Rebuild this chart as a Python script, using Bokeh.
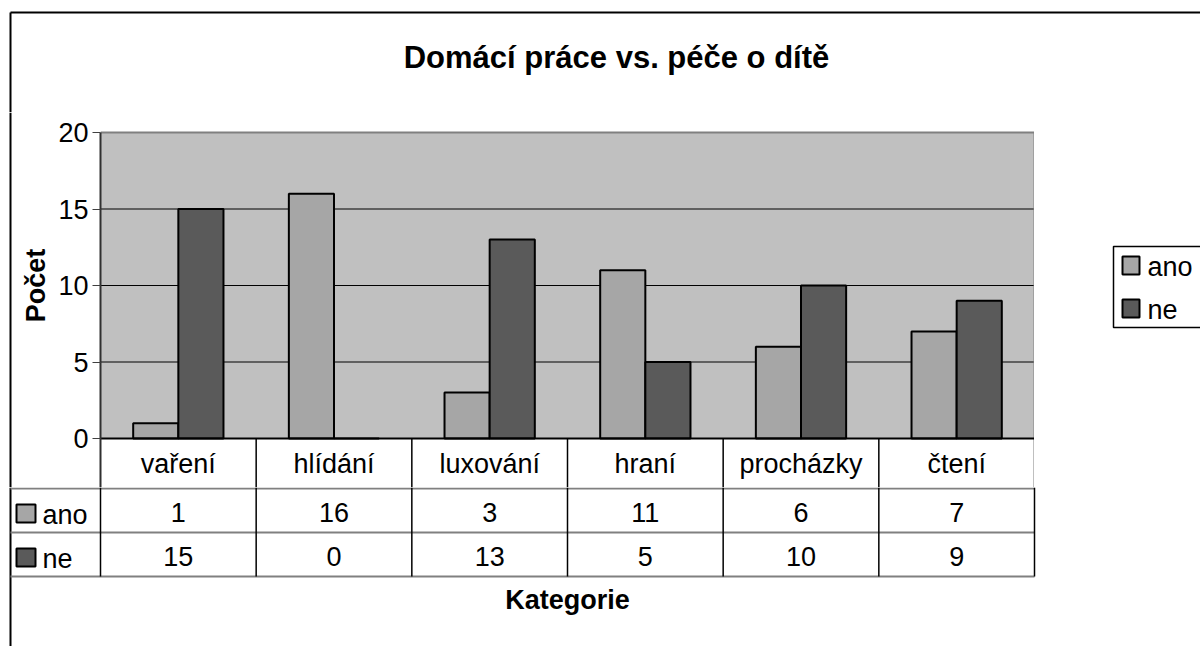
import numpy as np
from bokeh.plotting import figure
from bokeh.models import FactorRange, Range1d, ColumnDataSource
from bokeh.transform import dodge
from bokeh.layouts import column, row
from bokeh.core.properties import value
from bokeh.embed import file_html
from bokeh.resources import INLINE

# ---- data ----
categories = ["vaření", "hlídání", "luxování", "hraní", "procházky", "čtení"]
ano = [1, 16, 3, 11, 6, 7]
ne = [15, 0, 13, 5, 10, 9]
series = ["ano", "ne"]
series_colors = ["#A6A6A6", "#5A5A5A"]
yticks = [0, 5, 10, 15, 20]
title = "Domácí práce vs. péče o dítě"
x_title = "Kategorie"
y_title = "Počet"

FONT = value("Liberation Sans")
FS = value("27px")

# ---- layout constants (pixels) ----
W_TOTAL = 1200
H_TOP = 112
TOP_PAD = 20                     # frame space above the value area
PLOT_H = 306                     # height of the 0..20 value area
CAT_ROW = 49                     # category row height inside chart frame
H_MID = TOP_PAD + PLOT_H + CAT_ROW
H_BOT = 646 - H_TOP - H_MID
LEFT_STRIP = 50
AXIS_W = 50
FRAME_W = 934
RIGHT_W = W_TOTAL - LEFT_STRIP - AXIS_W - FRAME_W
CAT_W = FRAME_W / len(categories)
PX = PLOT_H / (yticks[-1] - yticks[0])
ORIGIN_X = LEFT_STRIP + AXIS_W


def deco(width, height, xr, yr):
    p = figure(width=width, height=height, x_range=xr, y_range=yr,
               toolbar_location=None, output_backend="svg", tools="",
               x_axis_location=None, y_axis_location=None,
               min_border=0, outline_line_color=None,
               background_fill_color="white", border_fill_color="white")
    p.grid.visible = False
    return p


# ---- top: title + outer border ----
top = deco(W_TOTAL, H_TOP, Range1d(0, W_TOTAL), Range1d(H_TOP, 0))
top.segment(x0=[10, 10], y0=[12, 12], x1=[W_TOTAL, 10], y1=[12, H_TOP],
            line_color="black", line_width=2)
top.text(x=[616], y=[57], text=[title], text_font=FONT,
         text_font_size=value("31px"), text_font_style="bold",
         text_align="center", text_baseline="middle", text_color="black")

# ---- left strip: border + y title ----
left = deco(LEFT_STRIP, H_MID, Range1d(0, LEFT_STRIP), Range1d(H_MID, 0))
left.segment(x0=[10], y0=[0], x1=[10], y1=[H_MID], line_color="black", line_width=2)
left.text(x=[35], y=[TOP_PAD + PLOT_H / 2], text=[y_title], angle=np.pi / 2,
          text_font=FONT, text_font_size=value("27px"), text_font_style="bold",
          text_align="center", text_baseline="middle", text_color="black")

# ---- chart (value area + category row) ----
y_start = yticks[0] - CAT_ROW / PX
y_end = yticks[-1] + TOP_PAD / PX
src = ColumnDataSource(dict(cat=categories, ano=ano, ne=ne))
p = figure(width=AXIS_W + FRAME_W, height=H_MID,
           x_range=FactorRange(*categories), y_range=Range1d(y_start, y_end),
           toolbar_location=None, output_backend="svg", tools="",
           x_axis_location=None,
           min_border_left=AXIS_W, min_border_right=0,
           min_border_top=0, min_border_bottom=0,
           background_fill_color="white", border_fill_color="white",
           outline_line_color=None)
p.grid.visible = False
n = len(categories)
# plot area background
p.quad(left=[0], right=[n], bottom=[yticks[0]], top=[yticks[-1]],
       fill_color="#C0C0C0", line_color=None)
# gridlines
inner = yticks[1:-1]
p.segment(x0=[0] * len(inner), x1=[n] * len(inner), y0=inner, y1=inner,
          line_color="black", line_width=1)
# top / right edges of the plot area
p.segment(x0=[0, n], x1=[n, n], y0=[yticks[-1], yticks[-1]], y1=[yticks[-1], yticks[0]],
          line_color="#808080", line_width=2)

bw = 0.29
for i, s in enumerate(series):
    off = -bw / 2 if i == 0 else bw / 2
    p.vbar(x=dodge("cat", off, range=p.x_range), top=s, width=bw, source=src,
           fill_color=series_colors[i], line_color="black", line_width=2)

# axis line at zero
p.segment(x0=[0], x1=[n], y0=[yticks[0]], y1=[yticks[0]], line_color="black", line_width=2)
# category row dividers
p.segment(x0=list(range(1, n + 1)), x1=list(range(1, n + 1)),
          y0=[yticks[0]] * n, y1=[y_start] * n, line_color="black", line_width=1.5)
# category labels
p.text(x=categories, y=[yticks[0] - (CAT_ROW / 2 + 1) / PX] * n, text=categories,
       text_font=FONT, text_font_size=FS, text_align="center",
       text_baseline="middle", text_color="black")

yax = p.yaxis[0]
yax.ticker = yticks
yax.bounds = (y_start, yticks[-1])
yax.major_tick_out = 8
yax.major_tick_in = 0
yax.minor_tick_out = 0
yax.minor_tick_in = 0
yax.axis_line_color = "#303030"
yax.axis_line_width = 2
yax.major_tick_line_color = "#404040"
yax.major_label_text_font = "Liberation Sans"
yax.major_label_text_font_size = "27px"
yax.major_label_text_color = "black"
yax.major_label_standoff = 4

# ---- right: legend ----
right = deco(RIGHT_W, H_MID, Range1d(0, RIGHT_W), Range1d(H_MID, 0))
oy = H_TOP
right.quad(left=[79], right=[RIGHT_W + 10], top=[246 - oy], bottom=[327 - oy],
           fill_color="white", line_color="black", line_width=1.5)
leg_y = [265 - oy, 308 - oy]
right.quad(left=[88, 88], right=[105, 105],
           top=[y - 9 for y in leg_y], bottom=[y + 9 for y in leg_y],
           fill_color=series_colors, line_color="black", line_width=2)
right.text(x=[113, 113], y=[y + 1 for y in leg_y], text=series, text_font=FONT,
           text_font_size=FS, text_align="left", text_baseline="middle",
           text_color="black")

# ---- bottom: value rows + x title ----
x0 = -ORIGIN_X / CAT_W
x1 = n + RIGHT_W / CAT_W
tab = deco(W_TOTAL, H_BOT, Range1d(x0, x1), Range1d(H_BOT, 0))
rows_y = [1, 45, 89]
xb = -(ORIGIN_X - 10) / CAT_W  # outer border x
tab.segment(x0=[xb], y0=[0], x1=[xb], y1=[H_BOT], line_color="black", line_width=2)
tab.segment(x0=[xb] * 3, y0=rows_y, x1=[n] * 3, y1=rows_y,
            line_color="#808080", line_width=2)
tab.segment(x0=list(range(n + 1)), y0=[0] * (n + 1), x1=list(range(n + 1)),
            y1=[rows_y[-1]] * (n + 1), line_color="black", line_width=1.5)
cx = [i + 0.5 for i in range(n)]
row_c = [(rows_y[0] + rows_y[1]) / 2, (rows_y[1] + rows_y[2]) / 2]
for r, vals in enumerate([ano, ne]):
    tab.text(x=cx, y=[row_c[r] + 2] * n, text=[str(v) for v in vals],
             text_font=FONT, text_font_size=FS, text_align="center",
             text_baseline="middle", text_color="black")
sq_l = (16 - ORIGIN_X) / CAT_W
sq_r = (35 - ORIGIN_X) / CAT_W
tab.quad(left=[sq_l] * 2, right=[sq_r] * 2, top=[y - 6 for y in row_c],
         bottom=[y + 12 for y in row_c], fill_color=series_colors,
         line_color="black", line_width=2)
tx = (42 - ORIGIN_X) / CAT_W
tab.text(x=[tx] * 2, y=[y + 4 for y in row_c], text=series, text_font=FONT,
         text_font_size=FS, text_align="left", text_baseline="middle",
         text_color="black")
tab.text(x=[n / 2], y=[599 - (H_TOP + H_MID)], text=[x_title], text_font=FONT,
         text_font_size=value("27px"), text_font_style="bold",
         text_align="center", text_baseline="middle", text_color="black")

layout = column(top, row(left, p, right, spacing=0), tab, spacing=0)
open("out.html", "w").write(file_html(layout, INLINE))
